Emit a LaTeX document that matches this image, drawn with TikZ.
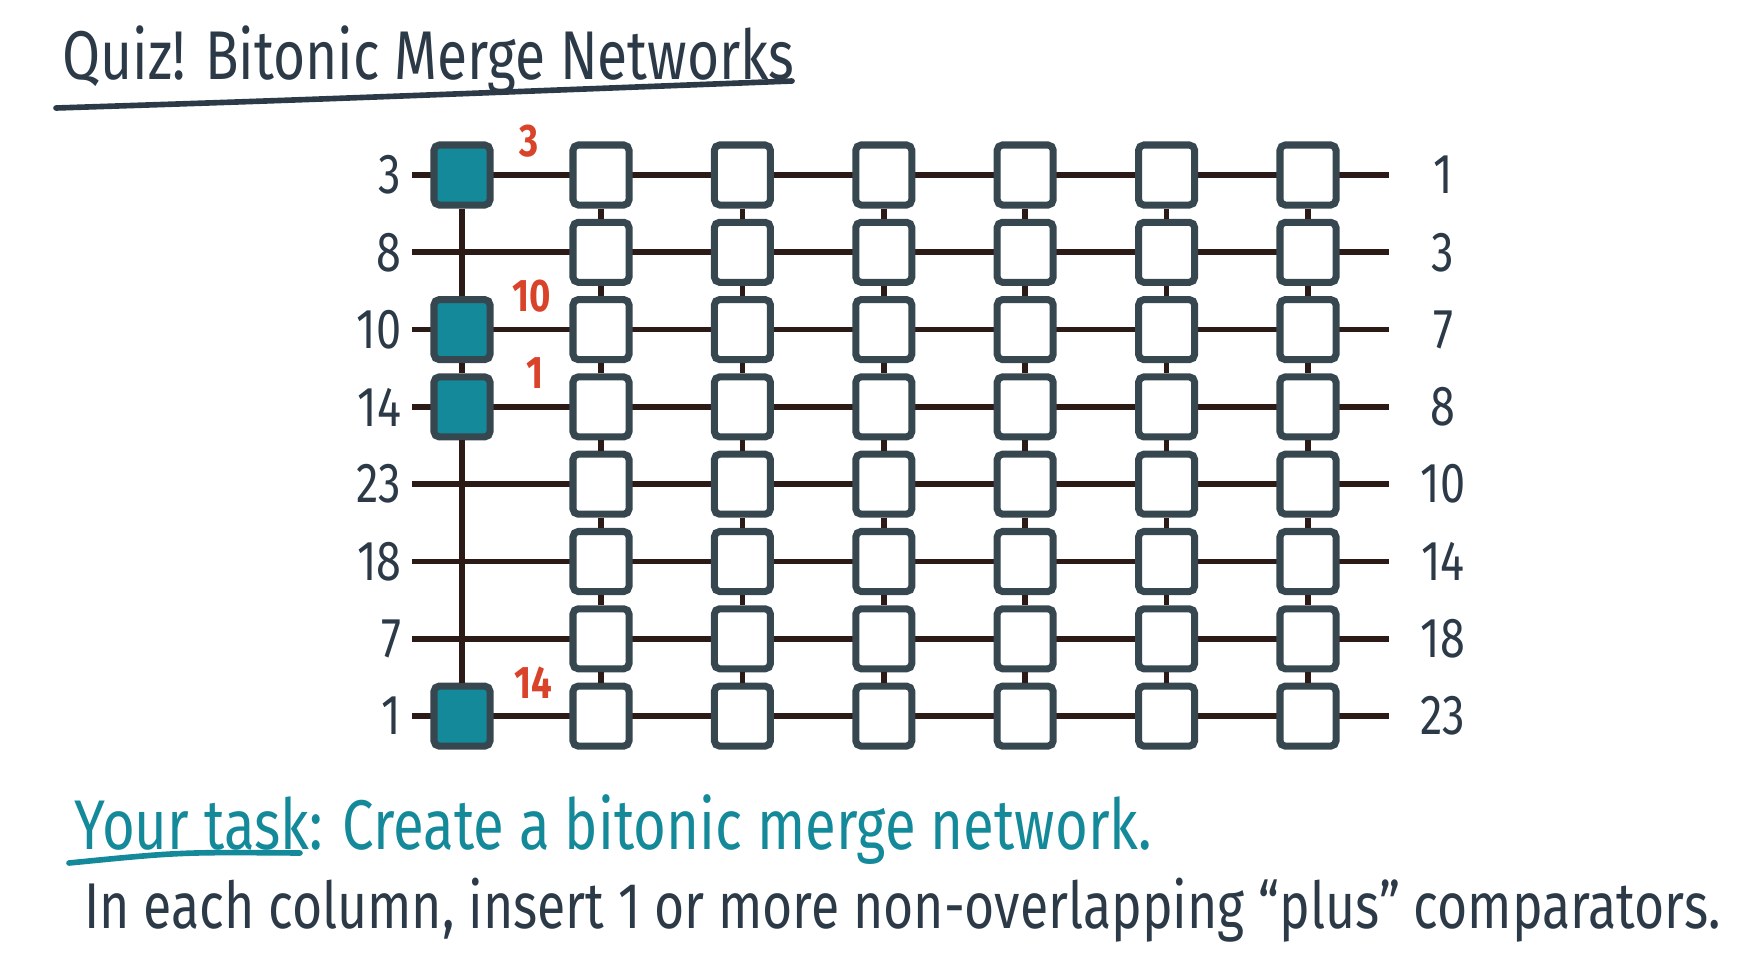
\documentclass[tikz,border=0pt]{standalone}
\usepackage{fontspec}
\setmainfont[FakeStretch=0.8]{Fira Sans}
\usepackage{xcolor}
\usepackage{tikz}
\usetikzlibrary{positioning}
\definecolor{wirebrown}{HTML}{2B1A15}
\definecolor{boxslate}{HTML}{37474F}
\definecolor{quizteal}{HTML}{13899A}
\definecolor{inkdark}{HTML}{2C3A48}
\definecolor{markred}{HTML}{D8432A}
\tikzstyle{wire} = [draw=wirebrown, line width=1.6pt]
\tikzstyle{cmp} = [draw=boxslate, line width=2pt, fill=white, rounded corners=1.5pt, inner sep=0pt, minimum width=0.56cm, minimum height=0.6cm]
\tikzstyle{cmpon} = [cmp, fill=quizteal]
\tikzstyle{val} = [text=inkdark, inner sep=0pt, font=\fontsize{16}{16}\selectfont]
\tikzstyle{redval} = [text=markred, inner sep=0pt, font=\bfseries\fontsize{13}{13}\selectfont]
\tikzstyle{ink} = [draw=inkdark, line width=1.6pt, line cap=round]

\begin{document}
\begin{tikzpicture}[x=0.01cm, y=-0.01cm]
    \useasboundingbox (0,0) rectangle (1742,978);

    % Title
    \node (title) [anchor=west, text=inkdark, font=\fontsize{19.6}{20}\selectfont] at (50,60) {Quiz! Bitonic Merge Networks};
    \coordinate (tl) at (56,108);
    \coordinate (tr) at (792,81);
    \draw[ink] (tl) .. controls (300,100) .. (tr);

    % Wires with input and output values
    \foreach \i/\a/\b in {1/3/1, 2/8/3, 3/10/7, 4/14/8, 5/23/10, 6/18/14, 7/7/18, 8/1/23} {
        \pgfmathsetmacro{\ry}{175+77.3*(\i-1)}
        \node (in\i) [val, anchor=east] at (402,\ry) {\a};
        \node (out\i) [val] at (1443,\ry) {\b};
        \coordinate (ws\i) at (412,\ry);
        \coordinate (we\i) at (1389,\ry);
        \draw[wire] (ws\i) -- (we\i);
    }

    % First column: the given comparators
    \foreach \i in {1,3,4,8} {
        \pgfmathsetmacro{\ry}{175+77.3*(\i-1)}
        \node (t\i) [cmpon] at (462,\ry) {};
    }
    \draw[wire] (t1) -- (t3);
    \draw[wire] (t3) -- (t4);
    \draw[wire] (t4) -- (t8);

    % Empty columns
    \foreach \k in {1,...,6} {
        \pgfmathsetmacro{\cx}{601+141.4*(\k-1)}
        \foreach \i in {1,...,8} {
            \pgfmathsetmacro{\ry}{175+77.3*(\i-1)}
            \node (b\k-\i) [cmp] at (\cx,\ry) {};
        }
        \foreach \i [evaluate=\i as \j using int(\i+1)] in {1,...,7}
            \draw[wire] (b\k-\i) -- (b\k-\j);
    }

    % Values after the first column
    \node (r1) [redval, right=0.25cm of t1.north east] {3};
    \node (r3) [redval, right=0.18cm of t3.north east] {10};
    \node (r4) [redval, right=0.32cm of t4.north east] {1};
    \node (r8) [redval, right=0.2cm of t8.north east] {14};

    % Task text
    \node (task) [anchor=west, text=quizteal, font=\fontsize{20}{20}\selectfont] at (62,830) {Your task: Create a bitonic merge network.};
    \coordinate (ul) at (69,863);
    \coordinate (ur) at (300,853);
    \draw[draw=quizteal, line width=1.6pt, line cap=round] (ul) .. controls (180,852) .. (ur);
    \node (hint) [anchor=west, text=inkdark, font=\fontsize{18.4}{19}\selectfont] at (72,910) {In each column, insert 1 or more non-overlapping “plus” comparators.};
\end{tikzpicture}
\end{document}
